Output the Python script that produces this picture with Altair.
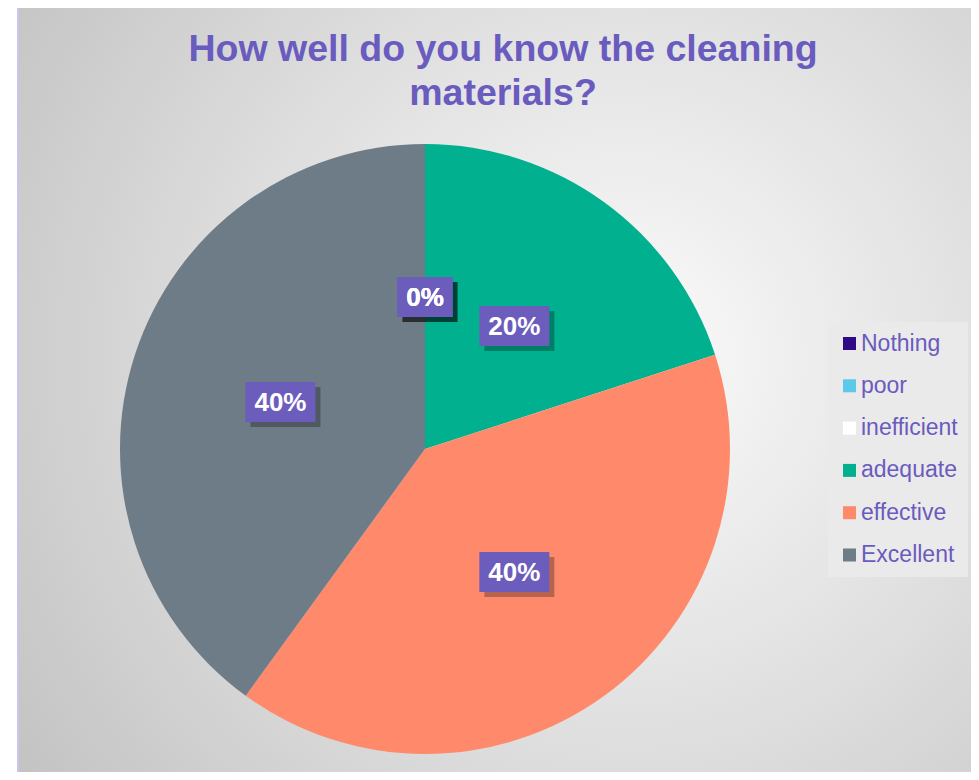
import altair as alt
import pandas as pd

# ---- data ----
categories = ["Nothing", "poor", "inefficient", "adequate", "effective", "Excellent"]
values = [0, 0, 0, 20, 40, 40]
labels = ["0%", "0%", "0%", "20%", "40%", "40%"]
colors = ["#2E0A86", "#5BC9E8", "#FFFFFF", "#00B08F", "#FF8A6B", "#6E7C87"]
title_lines = ["How well do you know the cleaning", "materials?"]

W, H = 963, 764
CX, CY, R = 417, 441, 305
LABEL_R = 152
PURPLE = "#6A5BBF"
BOX = "#6C5DBC"

df = pd.DataFrame({
    "category": categories,
    "value": values,
    "label": labels,
    "idx": list(range(len(categories))),
})
one = pd.DataFrame({"a": [0]})

# background frame with radial gradient
bg = alt.Chart(one).mark_rect(
    fill=alt.RadialGradient(
        gradient="radial",
        stops=[alt.GradientStop(color="#FBFBFB", offset=0),
               alt.GradientStop(color="#E0E0E0", offset=0.5),
               alt.GradientStop(color="#C3C3C3", offset=1)],
        x1=0.62, y1=0.45, r1=0, x2=0.62, y2=0.45, r2=0.75,
    ),
    stroke="#CBC4EC", strokeWidth=2,
).encode(x=alt.value(10), x2=alt.value(990), y=alt.value(-4), y2=alt.value(800))

pie = alt.Chart(df).mark_arc(outerRadius=R).encode(
    theta=alt.Theta("value:Q", stack=True),
    order=alt.Order("idx:Q"),
    color=alt.Color(
        "category:N",
        scale=alt.Scale(domain=categories, range=colors),
        sort=categories,
        legend=alt.Legend(
            title=None, orient="none", legendX=820, legendY=314,
            symbolType="square", symbolSize=169, symbolStrokeWidth=0,
            labelFont="Liberation Sans", labelFontSize=23, labelColor=PURPLE,
            labelOffset=0, rowPadding=18.3, padding=10,
            fillColor="#EAEAEA", labelLimit=300,
        ),
    ),
    x=alt.value(CX), y=alt.value(CY),
)

pos = alt.Chart(df).transform_joinaggregate(
    total="sum(value)"
).transform_window(
    cum="sum(value)", sort=[alt.SortField("idx")]
).transform_calculate(
    mid=f"(datum.cum - datum.value/2) / datum.total * 2 * PI",
).transform_calculate(
    lx=f"{CX} + {LABEL_R} * sin(datum.mid)",
    ly=f"{CY} - {LABEL_R} * cos(datum.mid)",
    bw="25 + 15 * length(datum.label)",
).transform_calculate(
    x1="datum.lx - datum.bw/2", x2="datum.lx + datum.bw/2",
    y1="datum.ly - 20", y2="datum.ly + 20",
    sx1="datum.lx - datum.bw/2 + 5", sx2="datum.lx + datum.bw/2 + 5",
    sy1="datum.ly - 15", sy2="datum.ly + 25",
)

shadow = pos.mark_rect(color="#000000", opacity=0.28).encode(
    x=alt.X("sx1:Q", scale=None, axis=None), x2="sx2:Q",
    y=alt.Y("sy1:Q", scale=None, axis=None), y2="sy2:Q",
)
box = pos.mark_rect(color=BOX).encode(
    x=alt.X("x1:Q", scale=None, axis=None), x2="x2:Q",
    y=alt.Y("y1:Q", scale=None, axis=None), y2="y2:Q",
)
txt = pos.mark_text(
    font="Liberation Sans", fontWeight="bold", fontSize=26, color="white",
    baseline="middle", align="center", dy=1,
).encode(
    x=alt.X("lx:Q", scale=None, axis=None),
    y=alt.Y("ly:Q", scale=None, axis=None),
    text="label:N",
)

title = alt.Chart(one).mark_text(
    font="Liberation Sans", fontWeight="bold", fontSize=37.5, color=PURPLE,
    align="center", baseline="alphabetic", lineHeight=44,
).encode(x=alt.value(495), y=alt.value(53), text=alt.value(title_lines))

chart = alt.layer(bg, pie, shadow, box, txt, title).properties(
    width=W, height=H,
    autosize=alt.AutoSizeParams(type="none"),
    padding=0,
).configure_view(stroke=None).resolve_scale(x="independent", y="independent")

chart.save("out.html", embed_options={"renderer": "svg", "actions": False})
